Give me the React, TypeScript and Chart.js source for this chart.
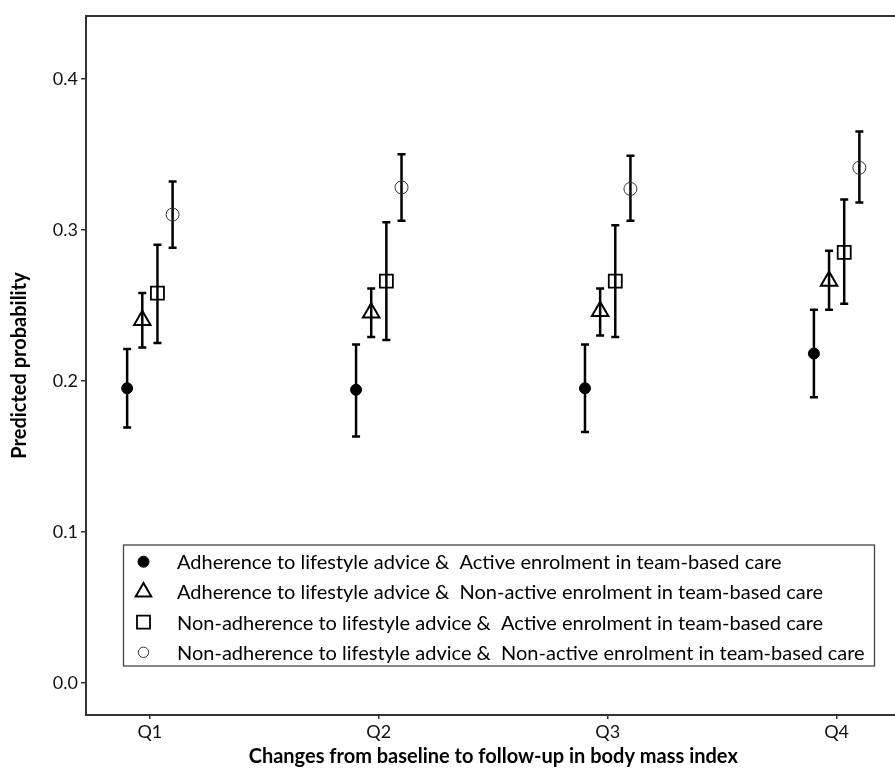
import React, { useEffect, useRef } from "react";
import { Chart, registerables } from "chart.js";

Chart.register(...registerables);

// ---- data ----
const categories = ["Q1", "Q2", "Q3", "Q4"];
const seriesNames = [
  "Adherence to lifestyle advice &  Active enrolment in team-based care",
  "Adherence to lifestyle advice &  Non-active enrolment in team-based care",
  "Non-adherence to lifestyle advice &  Active enrolment in team-based care",
  "Non-adherence to lifestyle advice &  Non-active enrolment in team-based care",
];

const adhActive = [0.195, 0.194, 0.195, 0.218];
const adhActiveLow = [0.169, 0.163, 0.166, 0.189];
const adhActiveHigh = [0.221, 0.224, 0.224, 0.247];

const adhNonActive = [0.240, 0.245, 0.246, 0.266];
const adhNonActiveLow = [0.222, 0.229, 0.230, 0.247];
const adhNonActiveHigh = [0.258, 0.261, 0.261, 0.286];

const nonAdhActive = [0.258, 0.266, 0.266, 0.285];
const nonAdhActiveLow = [0.225, 0.227, 0.229, 0.251];
const nonAdhActiveHigh = [0.290, 0.305, 0.303, 0.320];

const nonAdhNonActive = [0.310, 0.328, 0.327, 0.341];
const nonAdhNonActiveLow = [0.288, 0.306, 0.306, 0.318];
const nonAdhNonActiveHigh = [0.332, 0.350, 0.349, 0.365];

const yTicks = [0, 0.1, 0.2, 0.3, 0.4];
const xTitle = "Changes from baseline to follow-up in body mass index";
const yTitle = "Predicted probability";

// ---- styling ----
const FONT = "Lato, 'Open Sans', sans-serif";
const AXIS = "#333333";
const DODGE = 0.0662;

type Style = {
  pointStyle: string;
  radius: number;
  fill: boolean;
  borderWidth: number;
  color: string;
  legendRadius: number;
};

const styles: Style[] = [
  { pointStyle: "circle", radius: 5.5, fill: true, borderWidth: 1, color: "#000", legendRadius: 5.5 },
  { pointStyle: "triangle", radius: 9.5, fill: false, borderWidth: 2, color: "#000", legendRadius: 9 },
  { pointStyle: "rect", radius: 9.2, fill: false, borderWidth: 1.8, color: "#000", legendRadius: 9.2 },
  { pointStyle: "circle", radius: 6.5, fill: false, borderWidth: 1, color: "#333", legendRadius: 5.2 },
];

const seriesValues = [adhActive, adhNonActive, nonAdhActive, nonAdhNonActive];
const seriesLow = [adhActiveLow, adhNonActiveLow, nonAdhActiveLow, nonAdhNonActiveLow];
const seriesHigh = [adhActiveHigh, adhNonActiveHigh, nonAdhActiveHigh, nonAdhNonActiveHigh];

function drawShape(ctx: CanvasRenderingContext2D, s: Style, x: number, y: number, r: number) {
  ctx.save();
  ctx.beginPath();
  if (s.pointStyle === "circle") {
    ctx.arc(x, y, r, 0, Math.PI * 2);
  } else if (s.pointStyle === "triangle") {
    for (let k = 0; k < 3; k++) {
      const a = (k * 2 * Math.PI) / 3;
      const px = x + Math.sin(a) * r;
      const py = y - Math.cos(a) * r;
      if (k === 0) ctx.moveTo(px, py);
      else ctx.lineTo(px, py);
    }
    ctx.closePath();
  } else {
    const h = r * Math.SQRT1_2;
    ctx.rect(x - h, y - h, 2 * h, 2 * h);
  }
  ctx.lineWidth = s.borderWidth;
  ctx.strokeStyle = s.color;
  if (s.fill) {
    ctx.fillStyle = s.color;
    ctx.fill();
  }
  ctx.stroke();
  ctx.restore();
}

const errorBarPlugin = {
  id: "errorBars",
  beforeDatasetsDraw(chart: any) {
    const ctx: CanvasRenderingContext2D = chart.ctx;
    const xs = chart.scales.x;
    const ys = chart.scales.y;
    ctx.save();
    ctx.strokeStyle = "#000";
    ctx.lineWidth = 2.5;
    ctx.lineCap = "butt";
    chart.data.datasets.forEach((ds: any) => {
      ds.data.forEach((pt: any, i: number) => {
        const px = xs.getPixelForValue(pt.x);
        const lo = ys.getPixelForValue(ds.lower[i]);
        const hi = ys.getPixelForValue(ds.upper[i]);
        ctx.beginPath();
        ctx.moveTo(px, lo);
        ctx.lineTo(px, hi);
        ctx.moveTo(px - 4, lo);
        ctx.lineTo(px + 4, lo);
        ctx.moveTo(px - 4, hi);
        ctx.lineTo(px + 4, hi);
        ctx.stroke();
      });
    });
    ctx.restore();
  },
};

const frameLegendPlugin = {
  id: "frameLegend",
  afterDraw(chart: any) {
    const ctx: CanvasRenderingContext2D = chart.ctx;
    const a = chart.chartArea;
    ctx.save();
    // top and right border of panel
    ctx.strokeStyle = AXIS;
    ctx.lineWidth = 2;
    ctx.beginPath();
    ctx.moveTo(a.left - 1, a.top);
    ctx.lineTo(a.right, a.top);
    ctx.lineTo(a.right, a.bottom);
    ctx.stroke();

    // legend box
    const lx = 123.5;
    const ly = 545;
    const lw = 751;
    const lh = 121;
    ctx.fillStyle = "#fff";
    ctx.fillRect(lx, ly, lw, lh);
    ctx.strokeStyle = "#444";
    ctx.lineWidth = 1.3;
    ctx.strokeRect(lx, ly, lw, lh);

    ctx.font = `20px ${FONT}`;
    ctx.textBaseline = "middle";
    ctx.textAlign = "left";
    seriesNames.forEach((name, i) => {
      const cy = 561.7 + i * 30.2;
      drawShape(ctx, styles[i], 143.5, cy, styles[i].legendRadius);
      ctx.fillStyle = "#000";
      ctx.fillText(name, 177, cy + 1);
    });
    ctx.restore();
  },
};

export default function App() {
  const ref = useRef<HTMLCanvasElement | null>(null);

  useEffect(() => {
    if (!ref.current) return;
    const datasets = seriesNames.map((name, s) => ({
      label: name,
      data: categories.map((_, i) => ({ x: i + 1 + (s - 1.5) * DODGE, y: seriesValues[s][i] })),
      lower: seriesLow[s],
      upper: seriesHigh[s],
      pointStyle: styles[s].pointStyle,
      pointRadius: styles[s].radius,
      pointBorderWidth: styles[s].borderWidth,
      pointBorderColor: styles[s].color,
      pointBackgroundColor: styles[s].fill ? styles[s].color : "rgba(0,0,0,0)",
      showLine: false,
    }));

    const chart = new Chart(ref.current, {
      type: "scatter",
      data: { datasets: datasets as any },
      plugins: [errorBarPlugin, frameLegendPlugin],
      options: {
        animation: false,
        responsive: false,
        devicePixelRatio: 1,
        layout: { padding: { top: 16, right: 4, left: 0, bottom: 0 } },
        plugins: {
          legend: { display: false },
          tooltip: { enabled: false },
        },
        scales: {
          x: {
            type: "linear",
            min: 0.721,
            max: 4.279,
            afterBuildTicks: (scale: any) => {
              scale.ticks = categories.map((_, i) => ({ value: i + 1 }));
            },
            afterFit: (scale: any) => {
              scale.height = 57;
            },
            ticks: {
              callback: (v: any) => categories[Math.round(Number(v)) - 1] ?? "",
              color: "#111",
              font: { family: FONT, size: 18 },
              padding: 2,
              maxRotation: 0,
              autoSkip: false,
            },
            grid: {
              display: true,
              drawOnChartArea: false,
              drawTicks: true,
              tickLength: 4,
              color: AXIS,
              lineWidth: 1.5,
            },
            border: { display: true, color: AXIS, width: 2 },
            title: {
              display: true,
              text: xTitle,
              color: "#000",
              font: { family: FONT, size: 20, weight: "bold" },
              padding: { top: 0, bottom: 3 },
            },
          },
          y: {
            type: "linear",
            min: -0.02139,
            max: 0.44152,
            afterBuildTicks: (scale: any) => {
              scale.ticks = yTicks.map((v) => ({ value: v }));
            },
            afterFit: (scale: any) => {
              scale.width = 86;
            },
            ticks: {
              callback: (v: any) => Number(v).toFixed(1),
              color: "#111",
              font: { family: FONT, size: 18 },
              padding: 3,
            },
            grid: {
              display: true,
              drawOnChartArea: false,
              drawTicks: true,
              tickLength: 5,
              color: AXIS,
              lineWidth: 1.5,
            },
            border: { display: true, color: AXIS, width: 2 },
            title: {
              display: true,
              text: yTitle,
              color: "#000",
              font: { family: FONT, size: 20, weight: "bold" },
              padding: { top: 8, bottom: 0 },
            },
          },
        },
      } as any,
    });
    return () => chart.destroy();
  }, []);

  return (
    <div style={{ position: "absolute", left: 0, top: 0, width: 895, height: 772, overflow: "hidden", background: "#fff" }}>
      <canvas ref={ref} width={912} height={772} style={{ display: "block" }} />
    </div>
  );
}
